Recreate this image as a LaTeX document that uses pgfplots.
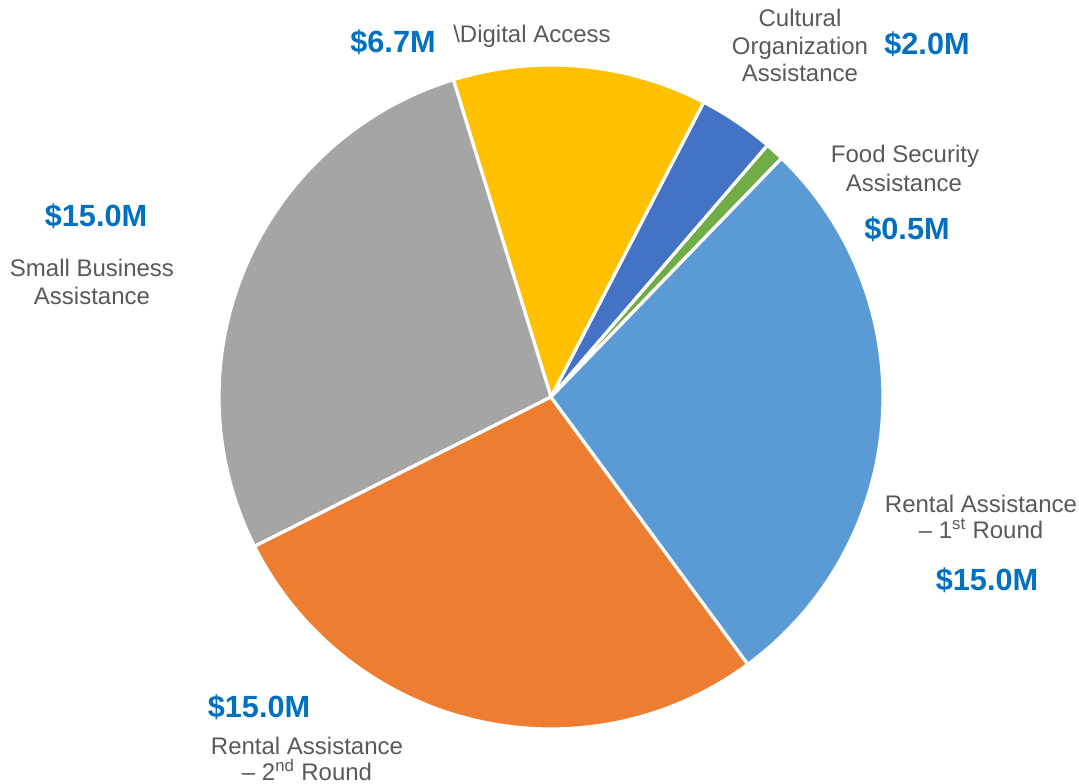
\documentclass[border=0pt]{standalone}
\usepackage{pgfplots}
\pgfplotsset{compat=1.18}
\usepackage{fontspec}
\setmainfont{Liberation Sans}

\definecolor{cRentA}{HTML}{5B9BD5}
\definecolor{cFood}{HTML}{70AD47}
\definecolor{cCult}{HTML}{4472C4}
\definecolor{cDig}{HTML}{FFC000}
\definecolor{cSmall}{HTML}{A5A5A5}
\definecolor{cRentB}{HTML}{ED7D31}
\definecolor{txtgray}{HTML}{595959}
\definecolor{valblue}{HTML}{0070C0}

\begin{document}
\begin{tikzpicture}[
    lab/.style={font=\fontsize{18pt}{21pt}\selectfont, text=txtgray, inner sep=0pt, anchor=base},
    val/.style={font=\fontsize{23pt}{27pt}\selectfont\bfseries, text=valblue, inner sep=0pt, anchor=base},
]
\begin{axis}[
    width=809.25pt, height=588pt,
    scale only axis,
    xmin=0, xmax=1079, ymin=0, ymax=784,
    y dir=reverse,
    hide axis,
    clip=false,
]
\path (rel axis cs:0,0) rectangle (rel axis cs:1,1);

% slices, counter-clockwise from 46 degrees (values in $M)
\pgfmathsetmacro{\total}{0.5+2.0+6.7+15.0+15.0+15.0}
\foreach \v/\c [remember=\b as \a (initially 46)] in
    {0.5/cFood, 2.0/cCult, 6.7/cDig, 15.0/cSmall, 15.0/cRentB, 15.0/cRentA} {
  \pgfmathsetmacro{\b}{\a+\v/\total*360}
  \edef\slice{\noexpand\filldraw[fill=\c, draw=white, line width=2.4pt, line join=round]
    (axis cs:551,397) -- ++(\a:249pt) arc[start angle=\a, end angle=\b, radius=249pt] -- cycle;}
  \slice
}

% labels
\node[val] at (axis cs:393,53) {\$6.7M};
\node[lab] at (axis cs:532,43) {\textbackslash Digital Access};

\node[lab] at (axis cs:800,27) {Cultural};
\node[lab] at (axis cs:800,55) {Organization};
\node[lab] at (axis cs:800,82) {Assistance};
\node[val] at (axis cs:927,55) {\$2.0M};

\node[lab] at (axis cs:905,163) {Food Security};
\node[lab] at (axis cs:904,192) {Assistance};
\node[val] at (axis cs:907,240) {\$0.5M};

\node[val] at (axis cs:96,227) {\$15.0M};
\node[lab] at (axis cs:92,277) {Small Business};
\node[lab] at (axis cs:92,305) {Assistance};

\node[lab] at (axis cs:981,512) {Rental Assistance};
\node[lab] at (axis cs:981,538) {– 1\textsuperscript{st} Round};
\node[val] at (axis cs:987,590) {\$15.0M};

\node[val] at (axis cs:259,717) {\$15.0M};
\node[lab] at (axis cs:307,754) {Rental Assistance};
\node[lab] at (axis cs:307,780) {– 2\textsuperscript{nd} Round};
\end{axis}
\end{tikzpicture}
\end{document}
